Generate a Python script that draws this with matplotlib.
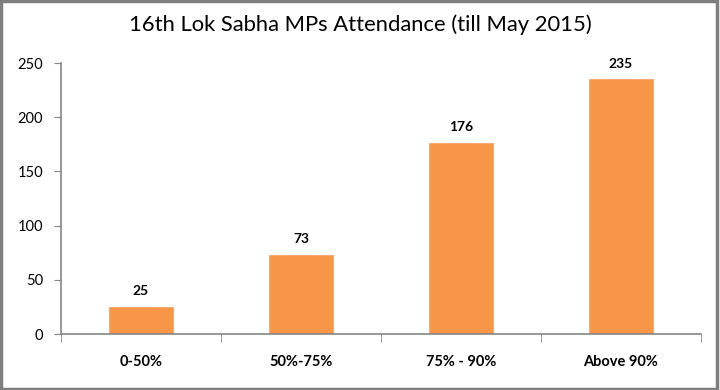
import matplotlib
matplotlib.use("Agg")
import matplotlib.pyplot as plt
from matplotlib.patches import Rectangle

categories = ["0-50%", "50%-75%", "75% - 90%", "Above 90%"]
values = [25, 73, 176, 235]
yticks = [0, 50, 100, 150, 200, 250]
title = "16th Lok Sabha MPs Attendance (till May 2015)"

plt.rcParams['font.family'] = ['Lato', 'DejaVu Sans']

fig = plt.figure(figsize=(7.2, 3.9), dpi=100)
ax = fig.add_axes([61/720, 56/390, 640/720, 271/390])

x = list(range(len(categories)))
bars = ax.bar(x, values, width=0.4, color="#F79646", edgecolor="#F9A36A", linewidth=0.6, zorder=2)
for xi, v in zip(x, values):
    ax.annotate(str(v), (xi, v), xytext=(0, 7), textcoords="offset points",
                ha="center", va="bottom", fontsize=10, fontweight="bold")

ax.set_xlim(-0.5, len(categories) - 0.5)
ax.set_ylim(0, 250)
ax.set_yticks(yticks)
ax.set_yticklabels([str(t) for t in yticks], fontsize=10.5)
ax.set_xticks(x)
ax.set_xticklabels(categories, fontsize=10.5, fontweight="bold")
ax.tick_params(axis="x", length=0, pad=15)
ax.set_xticks([i - 0.5 for i in range(len(categories) + 1)], minor=True)
ax.tick_params(axis="x", which="minor", length=6, color="#868686", direction="out")
ax.tick_params(axis="y", length=5, color="#868686", direction="out", pad=8)
for s in ["top", "right"]:
    ax.spines[s].set_visible(False)
for s in ["left", "bottom"]:
    ax.spines[s].set_color("#868686")
    ax.spines[s].set_linewidth(1.2)

fig.text(0.5, 1 - 25/390, title, ha="center", va="center", fontsize=15.8)
fig.patches.append(Rectangle((0.002, 0.003), 0.994, 0.994, transform=fig.transFigure,
                             fill=False, edgecolor="#7F7F7F", linewidth=2.5))

fig.savefig("out.png", dpi=100, facecolor="white")
